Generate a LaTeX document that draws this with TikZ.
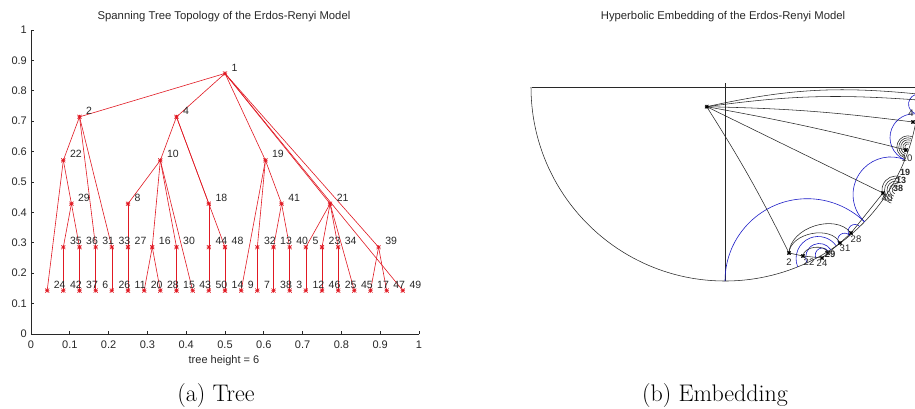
\documentclass[tikz,border=0pt]{standalone}
\usepackage{fontspec}
\newfontfamily\hv{Liberation Sans}
\usetikzlibrary{calc}
\definecolor{tred}{RGB}{225,25,35}
\definecolor{tblue}{RGB}{30,30,200}
\definecolor{tblk}{RGB}{40,40,40}
\tikzset{
  mk/.style={inner sep=0pt, minimum size=4.2pt, shape=rectangle,
    path picture={\draw[#1, line width=0.6pt]
      (path picture bounding box.north) -- (path picture bounding box.south)
      (path picture bounding box.east) -- (path picture bounding box.west)
      (path picture bounding box.north east) -- (path picture bounding box.south west)
      (path picture bounding box.north west) -- (path picture bounding box.south east);}},
  mk/.default=tred,
  tedge/.style={tred, line width=0.6pt},
  lbl/.style={font=\hv\fontsize{10.5}{10}\selectfont, inner sep=0pt, anchor=west, text=tblk},
  ticklbl/.style={font=\hv\fontsize{11}{11}\selectfont, inner sep=0pt, text=tblk},
  ttl/.style={font=\hv\fontsize{11.3}{12}\selectfont, inner sep=0pt, text=tblk},
  axln/.style={tblk, line width=0.7pt},
  geo/.style={tblk, line width=0.55pt},
  bgeo/.style={tblue, line width=0.6pt},
  capt/.style={font=\fontsize{24}{24}\selectfont, inner sep=0pt},
  elbl/.style={font=\hv\fontsize{9.5}{9}\selectfont, inner sep=0pt, text=tblk},
}
\begin{document}
\begin{tikzpicture}[x=1pt, y=-1pt]
\useasboundingbox (0,0) rectangle (915,408);
\fill[white] (0,0) rectangle (915,408);
% ---------------- left plot ----------------
\node[ttl] (title1) at (224,16.5) {Spanning Tree Topology of the Erdos-Renyi Model};
\draw[axln] (31,30) -- (31,334) -- (419,334);
\foreach \i/\t in {0/0,1/0.1,2/0.2,3/0.3,4/0.4,5/0.5,6/0.6,7/0.7,8/0.8,9/0.9,10/1} {
  \draw[axln] (31+38.8*\i,334) -- (31+38.8*\i,330.7);
  \node[ticklbl] (xt\i) at (31+38.8*\i,345) {\t};
  \draw[axln] (31,334-30.4*\i) -- (34.3,334-30.4*\i);
  \node[ticklbl, anchor=east] (yt\i) at (27,334-30.4*\i) {\t};
}
\node[ticklbl] (xlab) at (224,361) {tree height = 6};
\begin{scope}[shift={(31,334)}, x=16.1667pt, y=43.4286pt]
\foreach \n/\k/\l in {1/12/6, 2/3/5, 4/9/5, 22/2/4, 10/8/4, 19/14.5/4,
  29/2.5/3, 8/6/3, 18/11/3, 41/15.5/3, 21/18.5/3,
  35/2/2, 36/3/2, 31/4/2, 33/5/2, 27/6/2, 16/7.5/2, 30/9/2, 44/11/2, 48/12/2,
  32/14/2, 13/15/2, 40/16/2, 5/17/2, 23/18/2, 34/19/2, 39/21.5/2,
  24/1/1, 42/2/1, 37/3/1, 6/4/1, 26/5/1, 11/6/1, 20/7/1, 28/8/1, 15/9/1, 43/10/1,
  50/11/1, 14/12/1, 9/13/1, 7/14/1, 38/15/1, 3/16/1, 12/17/1, 46/18/1, 25/19/1,
  45/20/1, 17/21/1, 47/22/1, 49/23/1} {
  \coordinate (t\n) at (\k,\l);
}
\foreach \a/\b in {1/2, 1/4, 1/19, 1/21, 1/39, 1/49,
  2/22, 2/31, 2/33, 22/24, 22/29, 29/35, 29/36, 35/42, 36/37, 31/6, 33/26,
  4/10, 4/18, 4/48, 10/8, 10/16, 10/30, 10/43, 8/27, 27/11, 16/20, 16/28, 30/15,
  18/44, 44/50, 48/14, 19/9, 19/32, 19/41, 32/7, 41/13, 41/40, 13/38, 40/3,
  21/5, 21/23, 21/34, 21/45, 5/12, 23/46, 34/25, 39/17, 39/47} {
  \draw[tedge] (t\a) -- (t\b);
}
\foreach \n in {1,2,4,22,10,19,29,8,18,41,21,35,36,31,33,27,16,30,44,48,32,13,40,5,23,34,39,
  24,42,37,6,26,11,20,28,15,43,50,14,9,7,38,3,12,46,25,45,17,47,49} {
  \node[mk] (m\n) at (t\n) {};
  \node[lbl] (l\n) at ([xshift=6.5pt, yshift=6pt]t\n) {\n};
}
\end{scope}
\node[capt] (capa) at (216,396) {(a) Tree};
% ---------------- right plot ----------------
\node[ttl] (title2) at (723,16.5) {Hyperbolic Embedding of the Erdos-Renyi Model};
\begin{scope}
\clip (500,0) rectangle (915,408);
\coordinate (C) at (725,87);
\draw[geo] (531.5,87) -- (920,87);
\draw[geo] (725,83) -- (725,281);
\draw[geo] (C) ++(180:194pt) arc[start angle=180, end angle=365, radius=194pt];
% blue separating geodesics (boundary to boundary)
\draw[bgeo] (C) ++(270:194pt) arc[start angle=180, end angle=46, radius=82.3pt];
\draw[bgeo] (C) ++(316:194pt) arc[start angle=226, end angle=68, radius=37.7pt];
\draw[bgeo] (C) ++(338:194pt) arc[start angle=248, end angle=82, radius=23.8pt];
\draw[bgeo] (C) ++(352:194pt) arc[start angle=262, end angle=88, radius=10pt];
% inner blue geodesics in the lower cluster
\draw[bgeo] (C) ++(292:194pt) arc[start angle=202, end angle=35, radius=22.1pt];
\draw[bgeo] (C) ++(295:194pt) arc[start angle=205, end angle=33, radius=13.6pt];
\draw[bgeo] (C) ++(298:194pt) arc[start angle=208, end angle=32, radius=7pt];
\draw[bgeo] (C) ++(306:194pt) arc[start angle=216, end angle=40, radius=6.8pt];
\draw[bgeo] (C) ++(310:194pt) arc[start angle=220, end angle=44, radius=6.8pt];
% nodes
\coordinate (e1) at (706.7,106.7);
\coordinate (e2) at (789,253);
\coordinate (e22) at (803,256);
\coordinate (e24) at (822,258);
\coordinate (e29) at (828,253);
\coordinate (e31) at (840,243);
\coordinate (e26) at (851,233);
\coordinate (e40) at (883,193);
\coordinate (eB) at (906,150);
\coordinate (eC) at (913,122);
\coordinate (eD) at (918,100);
\coordinate (eE) at (918,94);
\draw[geo] (e1) to[bend left=3] (e2);
\draw[geo] (e1) -- (e40);
\draw[geo] (e1) to[bend left=2] (eB);
\draw[geo] (e1) to[bend left=3] (eC);
\draw[geo] (e1) to[bend left=6] (eD);
\draw[geo] (e1) to[bend left=9] (eE);
\draw[geo] (e2) to[bend left=70] (e26);
\draw[geo] (e2) to[bend left=75] (e31);
\draw[geo] (e22) to[bend left=80] (e29);
\draw[geo] (e2) -- (e22) -- (e24) -- (e29) -- (e31) -- (e26) -- (e40);
% nested fans in the right clusters
\foreach \r in {4,6.5,9,11.5,14} {
  \draw[geo] (896,190) ++(250:\r pt) arc[start angle=250, end angle=70, radius=\r pt];
  \draw[geo] (908,147) ++(250:0.8*\r pt) arc[start angle=250, end angle=70, radius=0.8*\r pt];
}
\foreach \n in {1,2,22,24,29,31,26,40,B,C} {\node[mk=black, minimum size=3.6pt] (me\n) at (e\n) {};}
\node[elbl] (le2) at (789,262) {2};
\node[elbl] (le22) at (809,262) {22};
\node[elbl] (le24) at (822,263) {24};
\node[elbl, font=\hv\bfseries\fontsize{9.5}{9}\selectfont] (le29) at (830,254) {29};
\node[elbl] (le31) at (845,248) {31};
\node[elbl] (le26) at (856,239) {28};
\node[elbl] (le40) at (887,198) {40};
\node[elbl, font=\hv\bfseries\fontsize{9}{9}\selectfont] (le19) at (905,172) {19};
\node[elbl, font=\hv\bfseries\fontsize{9}{9}\selectfont] (le41) at (901,180) {13};
\node[elbl, font=\hv\bfseries\fontsize{9}{9}\selectfont] (le13) at (898,188) {38};
\node[elbl] (le10) at (907,158) {10};
\node[elbl] (le4) at (911,113) {4};
\end{scope}
\node[capt] (capb) at (715,396) {(b) Embedding};
\end{tikzpicture}
\end{document}
